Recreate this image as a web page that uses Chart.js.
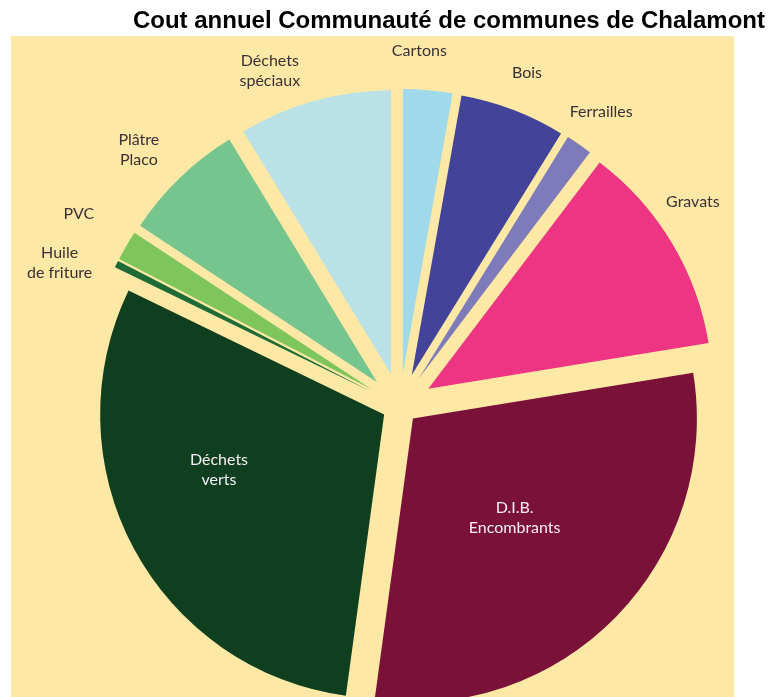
<!DOCTYPE html>
<html>
<head>
<meta charset="utf-8">
<script src="https://cdn.jsdelivr.net/npm/chart.js@4.4.1/dist/chart.umd.min.js"></script>
<style>
  html, body { margin: 0; padding: 0; background: #fff; }
  #wrap { width: 768px; height: 697px; }
</style>
</head>
<body>
<div id="wrap"><canvas id="coutChart"></canvas></div>
<script>
// part de chaque filière dans le coût annuel (%)
let labels = [['Cartons'], ['Bois'], ['Ferrailles'], ['Gravats'], ['D.I.B.', 'Encombrants'], ['Déchets', 'verts'], ['Huile', 'de friture'], ['PVC'], ['Plâtre', 'Placo'], ['Déchets', 'spéciaux']];
let values = [2.8, 6.0, 1.5, 12.1, 29.7, 30.0, 0.4, 1.7, 7.0, 8.7];
let colorHex = ['#9fd9ea', '#424399', '#7e7bba', '#ee3584', '#7a1139', '#0f3f1e', '#1e6b35', '#7ec55c', '#76c48e', '#bae1e5'];

let total = values.reduce((a, b) => a + b, 0);
let isBig = (i) => values[i] / total > 0.2;

// petits décalages pour que les étiquettes ne se chevauchent pas
let labelNudge = { 0: [-12, 0], 3: [-12, -20], 5: [-40, -12], 6: [-22, 16], 7: [-14, -12], 8: [-14, 0], 9: [-34, 8] };

// fond beige derrière le camembert
const fond = {
  id: 'fond',
  beforeDraw(chart) {
    const c = chart.ctx;
    c.save();
    c.fillStyle = '#fde8a6';
    c.fillRect(11, 36, 723, 661);
    c.restore();
  }
};

// camembert éclaté : chaque part s'écarte du centre
const eclate = {
  id: 'eclate',
  afterDatasetsUpdate(chart) {
    chart.getDatasetMeta(0).data.forEach((arc, i) => {
      const mid = (arc.startAngle + arc.endAngle) / 2;
      const d = isBig(i) ? 18 : 33;
      arc.x += Math.cos(mid) * d;
      arc.y += Math.sin(mid) * d;
    });
  }
};

const etiquettes = {
  id: 'etiquettes',
  afterDatasetsDraw(chart) {
    const c = chart.ctx;
    c.save();
    c.font = '16px Lato, sans-serif';
    c.textAlign = 'center';
    c.textBaseline = 'middle';
    chart.getDatasetMeta(0).data.forEach((arc, i) => {
      const mid = (arc.startAngle + arc.endAngle) / 2;
      const inside = isBig(i);
      const r = inside ? arc.outerRadius * 0.5 : arc.outerRadius + 39;
      const n = labelNudge[i] || [0, 0];
      const x = arc.x + Math.cos(mid) * r + n[0];
      const y = arc.y + Math.sin(mid) * r + n[1];
      c.fillStyle = inside ? '#f6eef6' : '#3a3035';
      const lines = labels[i];
      lines.forEach((line, k) => {
        c.fillText(line, x, y + (k - (lines.length - 1) / 2) * 20);
      });
    });
    c.restore();
  }
};

let ctx = document.getElementById('coutChart').getContext('2d');

let coutChart = new Chart(ctx, {
  type: 'pie',
  data: {
    labels: labels,
    datasets: [{
      data: values,
      backgroundColor: colorHex,
      borderWidth: 0,
      radius: 284
    }]
  },
  options: {
    responsive: true,
    maintainAspectRatio: false,
    animation: false,
    events: [],
    layout: {
      padding: { left: 35, right: 3, top: 0, bottom: 0 }
    },
    plugins: {
      legend: { display: false },
      tooltip: { enabled: false },
      title: {
        display: true,
        text: 'Cout annuel Communauté de communes de Chalamont',
        align: 'end',
        color: '#000',
        font: { family: "'Liberation Sans', Arial, sans-serif", size: 24, weight: 'bold' },
        padding: { top: 7, bottom: 79 }
      }
    }
  },
  plugins: [fond, eclate, etiquettes]
});
</script>
</body>
</html>
